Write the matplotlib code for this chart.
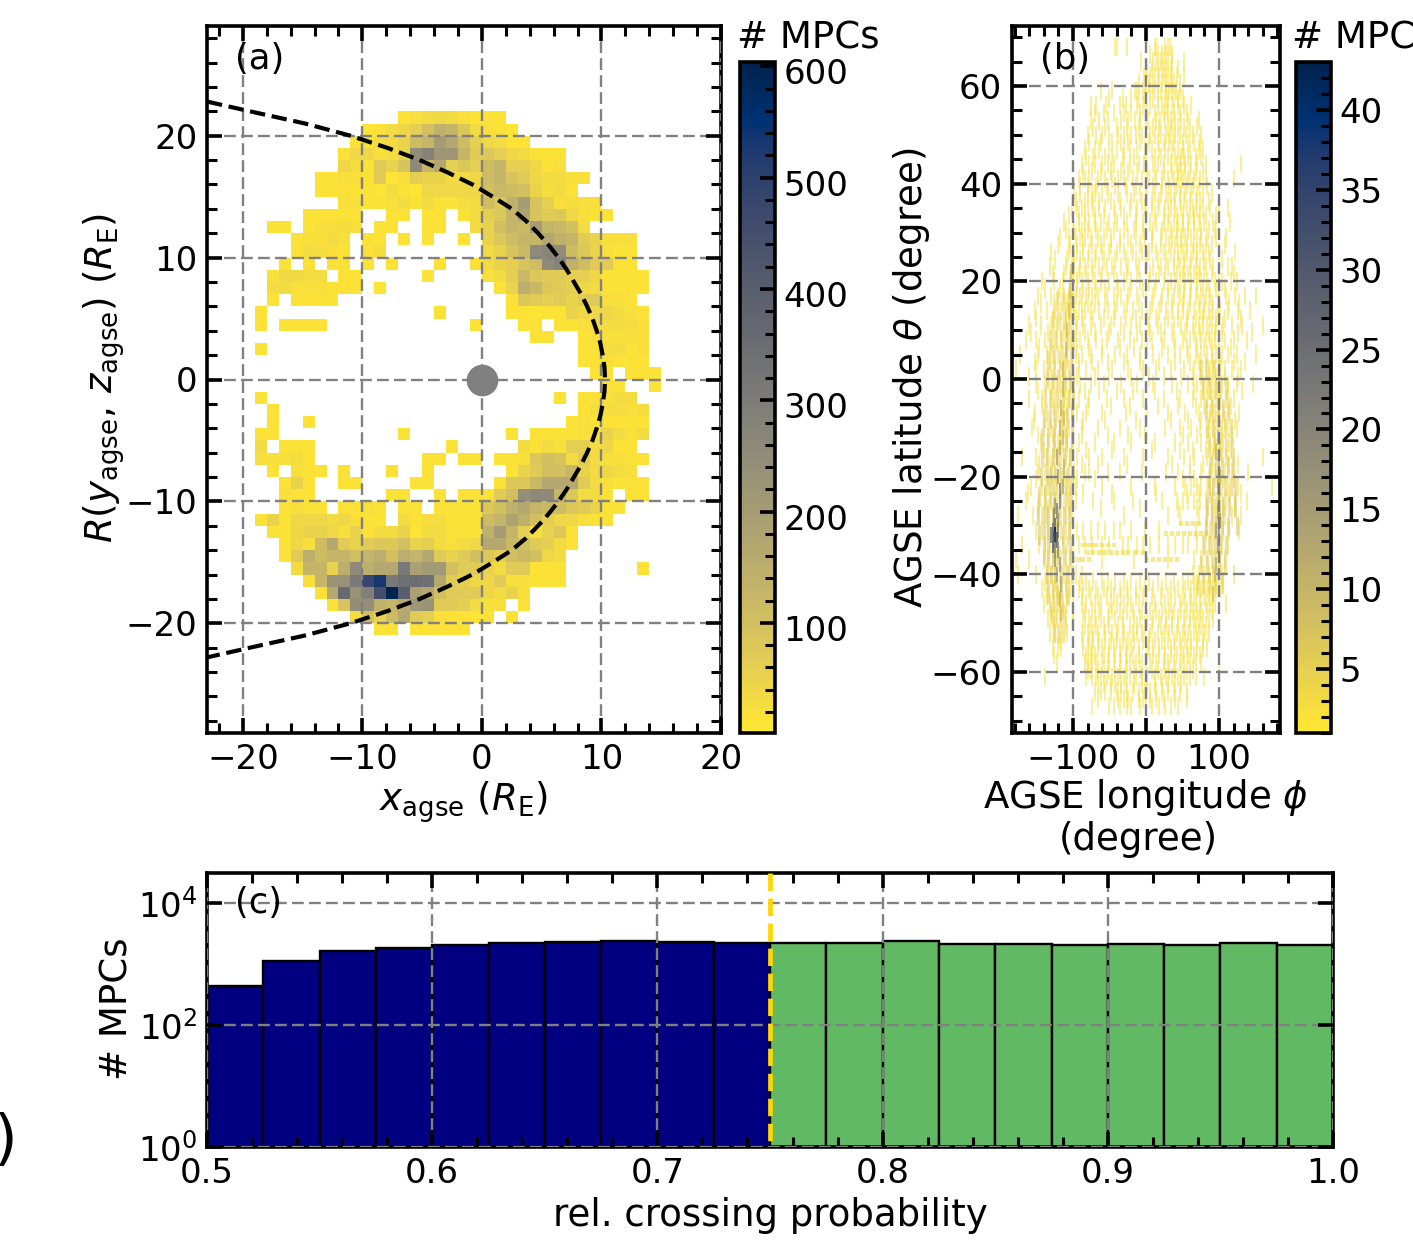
import numpy as np
import matplotlib
matplotlib.use("Agg")
import matplotlib.pyplot as plt
from matplotlib.colors import Normalize
from matplotlib.cm import ScalarMappable
from matplotlib.ticker import MultipleLocator, FixedLocator, NullFormatter
from matplotlib.transforms import ScaledTranslation

# ---------- panel (a): rows of (y bin lower edge, [(first x bin, counts), ...])
hist_rows = [
 (21, [(-7, [15,20,30,35,30,20,15,15,15])]),
 (20, [(-10, [10,15,30,40,60,100,140,130,80,30,20,15,10])]),
 (19, [(-11, [15,15,30,30,50,110,130,200,170,110,60,40,30,15,15])]),
 (18, [(-12, [15,40,40,20,30,50,250,280,220,220,130,70,80,60,40,30,15,15,15])]),
 (17, [(-12, [40,25,15,70,50,90,260,130,170,60,80,60,110,130,60,60,40,15,20])]),
 (16, [(-14, [15,15,20,20,15,70,10,20,60,50,50,30,30,40,110,130,90,70,40,30,30,20,20])]),
 (15, [(-14, [15,15,15,15,15,10,30,15,10,40,40,40,40,40,100,120,110,100,50,25,30,15])]),
 (14, [(-12, [20,20,15,15,20,30,15,30,15,15,25,30,110,80,140,200,90,60,20,25,20,20])]),
 (13, [(-15, [15,15,15,15,15]), (-8, [15,15]), (-5, [15,15]), (-2, [15,30,60,80,130,180,90,70,80,40,20,15,15])]),
 (12, [(-18, [15,15]), (-15, [15,20,20,25,20]), (-9, [15,15]), (-5, [15,15]), (-1, [30,50,100,130,120,200,130,120,100,30])]),
 (11, [(-16, [15,20,20,30,20]), (-10, [15,15]), (-7, [15]), (-5, [15]), (-2, [15]), (0, [50,80,110,130,130,170,140,130,70,50,20,20,20])]),
 (10, [(-16, [15,30,25,20,15]), (-10, [15,25]), (0, [30,50,90,120,260,270,250,110,80,50,20,15,15])]),
 (9, [(-17, [15]), (-15, [15]), (-13, [15,15]), (-10, [15]), (-8, [15]), (-4, [15]), (-1, [15,30,50,60,90,110,260,280,140,110,70,70,15]), (12, [15])]),
 (8, [(-18, [20,35,35,25,30]), (-12, [15,15]), (-5, [15]), (0, [20,30,60,120,80,70,70,60,60,40,15,15,15,15])]),
 (7, [(-18, [30,30,20,20,20,15,15,15]), (-9, [10]), (1, [15,50,150,120,80,70,60,40,30,15,15,15,15])]),
 (6, [(-18, [15]), (-16, [15,15,15,15]), (2, [15,80,70,60,70,50,70,70,20,20,15])]),
 (5, [(-19, [15]), (-4, [15]), (2, [15,15,10,15,15,50,40,40,40,30,20,15])]),
 (4, [(-19, [15]), (-17, [15,15,15,15]), (-1, [15]), (3, [15,15]), (6, [15,15,20,25,30,30,25,20])]),
 (3, [(4, [15,15]), (8, [15,20,20,20,20,20])]),
 (2, [(-19, [15]), (8, [15,15,25,30,15,20])]),
 (1, [(8, [15,15,20,15,15,15])]),
 (0, [(9, [15,15]), (12, [15,15,15])]),
 (-1, [(10, [15,15]), (14, [15])]),
 (-2, [(-19, [15]), (6, [15]), (8, [15,15,20,30,25])]),
 (-3, [(-18, [15]), (8, [15,25,25,25,20,25])]),
 (-4, [(-18, [15]), (-15, [15]), (7, [15,20,15,15,15,15,15])]),
 (-5, [(-19, [15,15]), (-7, [15]), (2, [15]), (4, [15,15,15,15,20,20,50,30,15,30])]),
 (-6, [(-19, [30]), (-17, [15,15,15]), (-3, [15]), (3, [30,15,30,20,60,60,30,40,15,15])]),
 (-7, [(-19, [20,20,20,25,15]), (-5, [15,15]), (-2, [15,15]), (1, [15,15,20,80,100,90,30,70,30,20,20,15,15])]),
 (-8, [(-18, [15]), (-16, [20,15,15]), (-12, [15]), (-8, [15]), (-5, [15]), (2, [15,50,70,100,100,130,50,30,40,30,20])]),
 (-9, [(-17, [15,50,15]), (-12, [15,15]), (-6, [15,15]), (1, [15,80,80,120,170,170,170,70,30,20,15,15,15])]),
 (-10, [(-17, [20,15,15]), (-8, [15,15]), (-4, [15]), (-2, [15,15,15,70,100,240,260,260,130,80,30,30,15]), (12, [15,15])]),
 (-11, [(-17, [15,20,15,15]), (-12, [15,15,20,15]), (-7, [15,15]), (-4, [15,15,15,15,80,100,140,170,130,120,110,80,70,50,15,15])]),
 (-12, [(-19, [15,50,15,40,40,40,30,40,20,15,15]), (-7, [30,15,25,25,15,15,15,110,130,180,140,100,60,40,40,20,15,15])]),
 (-13, [(-18, [15,15,40,50,50,40,20,50,15,30,30,50,10,30,30,15,15,15,140,200,130,60,20,50,80,15])]),
 (-14, [(-17, [15,40,20,110,170,70,50,70,80,80,100,50,60,30,20,30,40,170,170,120,100,70,60,30,15])]),
 (-15, [(-17, [15,70,150,110,130,130,100,130,150,100,150,130,170,70,50,70,100,80,60,100,120,100,40,30])]),
 (-16, [(-16, [30,130,130,50,150,260,150,170,170,310,190,210,210,100,70,70,50,30,70,70,15,15,15]), (13, [15])]),
 (-17, [(-15, [20,130,230,230,310,480,530,310,340,350,340,170,70,60,40,40,70,20,20,15,15,15])]),
 (-18, [(-14, [15,170,360,230,290,450,600,400,190,170,100,70,70,70,40,30,50,20])]),
 (-19, [(-13, [15,90,250,240,140,130,160,220,230,70,70,60,30,20,20]), (3, [15])]),
 (-20, [(-11, [25,100,50,110,170,70,60,20,15,15,10,15]), (2, [15])]),
 (-21, [(-9, [15,15]), (-6, [15,15,15,15,15])]),
]

# magnetopause boundary
curve_R = [0, 1, 2, 3, 4, 5, 6, 7, 8, 9, 10, 11, 12, 13, 14, 15, 16, 17, 18, 19, 20, 21, 22, 22.8]
curve_x = [10.3, 10.25, 10.1, 9.9, 9.6, 9.25, 8.8, 8.3, 7.7, 7.1, 6.4, 5.6, 4.7, 3.7, 2.5, 0.9, -0.8, -2.9, -5.2, -7.9, -11, -14.8, -19.4, -23]

# ---------- panel (b): short strokes per latitude row
stroke_lat = [68,65,62,59,56,53,50,47,44,41,38,35,32,29,26,23,20,17,14,11,8,5,2,-1,-4,-7,-10,-13,-16,-19,-22,-25,-28,-31,-34,-37,-40,-43,-46,-49,-52,-55,-58,-61,-64,-67]
stroke_lon = [
 [-42,-40,-26,12,14,26,30,33],
 [-7,9,14,20,25,30,36,52],
 [-3,0,6,12,18,24,30,36,42,52],
 [-62,-46,-15,-12,-4,0,5,12,21,27,32,36,41,47],
 [-75,-68,-55,-35,-28,-12,-4,6,16,22,29,36,44,52,62],
 [-76,-64,-52,-34,-24,-15,-8,3,14,19,26,34,40,48,57,72],
 [-80,-68,-60,-50,-38,-30,-20,-14,-6,6,13,20,28,33,40,47,55,64,76],
 [-84,-70,-64,-50,-40,-30,-22,-12,-2,8,18,26,36,44,50,60,72,78],
 [-88,-78,-70,-60,-52,-44,-30,-22,-10,-3,10,16,24,34,42,46,54,62,70,82,130],
 [-92,-84,-78,-66,-56,-46,-38,-30,-18,-6,4,14,22,30,38,44,50,58,66,74,82,120],
 [-98,-90,-80,-74,-70,-60,-52,-38,-26,-16,-8,2,12,20,28,34,40,46,54,62,70,78,90],
 [-102,-94,-88,-80,-72,-64,-56,-44,-34,-22,-12,-2,8,16,26,34,40,48,56,64,70,78,88,100,112],
 [-112,-100,-92,-84,-78,-70,-62,-50,-40,-26,-14,-4,6,14,24,30,38,44,50,58,66,72,80,92,115],
 [-118,-105,-96,-90,-84,-76,-66,-58,-48,-36,-24,-14,-2,8,20,28,36,42,48,54,62,70,76,84,96,110],
 [-130,-106,-100,-94,-86,-78,-68,-60,-50,-40,-30,-18,-6,4,14,24,34,44,50,56,64,70,78,86,100,122],
 [-132,-110,-102,-98,-90,-84,-74,-64,-54,-46,-34,-24,-10,0,10,20,30,38,46,52,60,68,74,82,92,112,118],
 [-142,-126,-114,-104,-100,-94,-88,-80,-70,-62,-50,-40,-30,-20,-8,4,14,24,34,40,46,54,62,70,76,84,94,104,116,124],
 [-148,-130,-120,-112,-106,-101,-96,-90,-82,-74,-66,-54,-44,-34,-24,-12,0,10,22,30,38,46,52,60,68,76,82,88,100,110,122,135,150],
 [-152,-136,-124,-116,-110,-104,-99,-92,-84,-76,-64,-52,-42,-30,-18,-6,6,18,28,36,44,50,58,66,74,80,86,92,102,112,126,142],
 [-160,-144,-130,-122,-116,-110,-105,-100,-94,-86,-76,-62,-48,-34,-20,-8,4,16,26,38,48,56,64,72,78,84,90,96,106,118,132,160],
 [-165,-150,-138,-128,-122,-116,-110,-104,-98,-90,-80,-68,-54,-38,-22,-6,8,24,38,50,60,68,76,82,88,94,100,108,120,138],
 [-172,-148,-136,-128,-120,-114,-108,-102,-96,-88,-76,-60,-42,-26,-8,10,30,46,58,68,76,84,90,96,104,112,125,150],
 [-178,-150,-140,-130,-124,-118,-112,-106,-100,-92,-82,-66,-46,-24,-4,14,34,52,66,74,82,88,94,100,108,118,130],
 [-150,-138,-128,-122,-116,-110,-104,-98,-90,-76,-58,-34,-12,10,36,58,70,78,84,90,96,104,112,124,146],
 [-160,-142,-132,-124,-118,-112,-106,-100,-92,-78,-54,-30,-4,24,46,64,76,84,90,96,102,110,120],
 [-152,-136,-126,-120,-114,-108,-102,-94,-82,-60,-28,2,30,54,72,82,88,94,100,106,114,128],
 [-156,-140,-130,-124,-118,-112,-106,-100,-88,-66,-36,-8,26,46,62,74,86,92,98,104,112,124],
 [-144,-134,-126,-120,-114,-108,-102,-92,-70,-44,-20,12,40,58,76,88,94,100,106,114],
 [-170,-150,-136,-128,-122,-116,-110,-104,-94,-78,-60,-30,-4,30,52,66,84,92,98,104,110,120,160],
 [-148,-138,-130,-124,-118,-112,-106,-98,-84,-78,-52,-36,-6,28,44,60,76,88,94,100,108,118,140],
 [-158,-142,-134,-128,-122,-116,-110,-104,-96,-60,-20,12,40,54,62,70,76,84,92,98,104,112,126,172],
 [-165,-146,-138,-130,-124,-118,-112,-106,-96,-72,-44,-18,22,42,50,58,66,74,82,90,96,102,110,122,138],
 [-175,-155,-142,-136,-128,-122,-116,-110,-102,-30,30,46,72,84,90,96,102,108,118,130],
 [-150,-142,-134,-128,-122,-116,-110,-104,-94,-86,-76,-66,-56,-44,-36,-20,-2,18,68,82,88,94,100,106,114,128],
 [-170,-146,-138,-132,-126,-120,-114,-108,-102,-92,-84,-74,-60,-50,-32,-24,-12,-4,6,18,30,40,50,58,70,78,86,92,98,104,112],
 [-178,-160,-140,-134,-128,-122,-116,-110,-104,-60,-16,30,66,76,84,90,96,102,108],
 [-175,-150,-136,-130,-124,-118,-112,-106,-96,-88,64,72,80,86,92,98,104,120],
 [-142,-134,-128,-122,-116,-110,-104,-92,-86,-78,-68,-58,-48,-36,-26,-14,-2,10,22,34,44,54,62,70,76,84,90,96,102],
 [-140,-132,-126,-120,-114,-108,-100,-88,-82,-70,-62,-48,-40,-30,-20,-10,0,12,26,34,46,54,62,68,74,82,88,94,110],
 [-134,-128,-122,-116,-110,-100,-86,-78,-70,-62,-52,-42,-32,-16,-8,2,10,18,28,36,44,52,60,66,72,78,86,92],
 [-132,-124,-116,-108,-88,-80,-72,-66,-56,-46,-40,-30,-18,-6,-12,6,16,24,32,42,50,58,66,72,80,86],
 [-128,-120,-116,-86,-80,-74,-66,-60,-50,-44,-36,-28,-20,-10,4,10,18,26,34,40,48,56,62,70,78,84],
 [-122,-84,-80,-74,-68,-60,-52,-44,-36,-28,-22,-14,-6,6,14,24,30,38,46,52,60,68,76,100],
 [-138,-82,-74,-68,-62,-54,-46,-38,-30,-22,-14,-6,2,12,20,28,36,44,52,60,68,80],
 [-70,-62,-56,-48,-40,-34,-26,-18,-10,-2,6,14,22,30,38,46,56],
 [-74,-50,-44,-36,-26,-20,-8,0,8,18,26,34,44],
]

stroke_lat2 = [66.5,63.5,60.5,57.5,54.5,51.5,48.5,45.5,42.5,39.5,36.5,33.5,30.5,27.5,24.5,21.5,18.5,15.5,12.5,9.5,6.5,3.5,0.5,-2.5,-5.5,-8.5,-11.5,-14.5,-17.5,-20.5,-23.5,-26.5,-41.5,-44.5,-47.5,-50.5,-53.5,-56.5,-59.5,-62.5,-65.5]
stroke_lon2 = [
 [5,16,22,28,35],
 [2,8,16,22,28,34,44],
 [-10,-2,4,10,16,22,28,34,38,46],
 [-50,-32,-20,-10,-2,10,16,26,30,38,44,50],
 [-70,-58,-44,-30,-20,-8,2,12,24,30,38,46,56],
 [-72,-56,-40,-26,-10,0,10,18,30,36,44,52,60,70],
 [-78,-62,-46,-34,-24,-8,4,16,24,32,38,50,58,66,74],
 [-82,-72,-56,-46,-32,-16,0,12,20,30,40,48,52,58,68,76],
 [-86,-74,-62,-48,-34,-24,-12,2,12,24,36,44,48,54,60,68,78],
 [-90,-80,-68,-54,-42,-28,-14,0,10,22,32,42,48,56,64,72,84],
 [-96,-84,-74,-64,-48,-36,-20,-6,8,18,30,38,46,52,60,68,74,86],
 [-106,-92,-84,-70,-58,-42,-30,-14,0,12,24,32,42,50,60,66,74,82,96],
 [-110,-98,-88,-80,-68,-54,-44,-30,-16,-4,10,22,34,42,50,58,66,76,86,94],
 [-120,-104,-94,-86,-74,-62,-48,-36,-20,-8,8,20,32,40,48,56,66,74,82,90,108],
 [-124,-108,-98,-90,-80,-70,-58,-42,-28,-14,2,16,28,38,44,54,62,70,80,88,104],
 [-128,-112,-100,-92,-82,-72,-60,-44,-26,-12,6,18,26,42,50,58,66,72,80,90,100,120],
 [-138,-118,-102,-94,-86,-78,-68,-56,-38,-22,-4,12,30,44,52,62,70,78,86,96,108],
 [-144,-126,-108,-98,-88,-80,-70,-56,-40,-26,-10,8,20,36,50,60,72,80,90,98,114,128],
 [-150,-128,-110,-96,-88,-72,-58,-44,-28,-14,2,14,30,44,56,68,78,88,96,108,130],
 [-158,-134,-112,-96,-84,-70,-50,-30,-12,6,20,36,54,66,74,86,94,104,126,145],
 [-146,-130,-108,-94,-78,-60,-36,-16,2,22,40,56,70,80,90,100,116],
 [-152,-132,-112,-92,-74,-52,-30,-8,18,40,60,72,82,92,102,120,135],
 [-160,-134,-114,-94,-70,-50,-20,4,24,48,64,76,86,96,108,126],
 [-148,-130,-110,-84,-64,-40,-18,12,42,66,78,88,98,112,132],
 [-142,-126,-108,-80,-48,-22,16,44,68,80,90,100,116],
 [-154,-134,-114,-86,-56,-14,34,58,76,88,96,108,122],
 [-148,-128,-110,-88,-52,-24,-2,50,70,84,94,104,118],
 [-140,-124,-108,-82,-46,8,46,64,82,92,102,116],
 [-146,-130,-112,-88,-66,-26,36,60,78,90,100,112,126],
 [-150,-132,-112,-94,-70,50,66,86,96,106,120],
 [-162,-138,-122,-106,-86,-46,14,56,72,88,98,114,130],
 [-148,-134,-118,-104,-62,-8,44,70,84,94,106,122],
 [-138,-124,-110,-90,-82,-72,-60,-52,-42,-30,-20,-8,4,16,28,38,50,58,66,72,80,88,94,106],
 [-136,-120,-106,-88,-76,-66,-54,-44,-34,-24,-14,-4,8,20,30,40,50,60,66,74,80,86,92],
 [-130,-114,-100,-84,-74,-64,-50,-46,-36,-26,-18,-6,6,14,22,32,38,48,56,64,70,76,84,90],
 [-126,-110,-84,-76,-68,-58,-50,-38,-32,-22,-12,-2,8,20,28,36,44,54,60,68,76,82],
 [-118,-86,-78,-72,-64,-56,-48,-40,-32,-24,-16,-4,4,12,22,30,38,46,54,62,70,78],
 [-126,-82,-76,-70,-58,-50,-42,-34,-26,-18,-10,2,10,18,26,34,42,50,58,66,74],
 [-80,-76,-66,-58,-50,-42,-36,-26,-16,-8,0,8,16,24,32,40,48,56,64],
 [-66,-58,-48,-42,-34,-28,-16,-6,2,12,22,30,40,48],
 [-66,-38,-30,-24,-10,-4,6,14,24,40,56],
]

# horizontal streaks in the sparse part of panel (b)
streak_lat = [-34,-34,-34,-34,-34,-34,-34,-35.6,-35.6,-35.6,-35.6,-35.6,-35.6,-35.6,-35.6,-35.6,-35.6,-37,-37,-37,-37,-37,-37,-37,-37,-37,-37,-31.6,-31.6,-31.6,-31.6,-31.6,-31.6,-31.6,-31.6,-29.6,-29.6,-29.6,-29.6]
streak_lon = [-86,-80,-74,-68,-60,-52,-44,-80,-72,-64,-56,-48,-40,-32,-24,-14,-4,-98,-92,-86,-78,2,10,18,26,34,42,28,36,44,52,60,68,76,82,48,56,64,72]

# darker strokes of the two dense bands of panel (b)
band_lat = [22,18,14,10,6,2,-2,-6,-8,-10,-12,-14,-16,-18,-20,-22,-23,-25,-26,-27,-28,-29,-30,-31,-31,-32,-32,-33,-33,-34,-35,-35,-37,-38,-40,-42,-45,-48,
            -8,-12,-15,-18,-20,-22,-25,-27,-29,-31,-32,-34,-36,-38,-40,-44]
band_lon = [-103,-104,-106,-108,-110,-113,-114,-116,-112,-118,-113,-118,-122,-112,-120,-114,-118,-118,-124,-122,-126,-120,-124,-128,-120,-125,-130,-122,-126,-128,-124,-120,-124,-118,-122,-116,-118,-116,
            100,98,96,100,102,98,100,98,102,96,100,98,100,96,94,92]
band_val = [6,6,7,7,8,8,9,9,8,9,8,10,12,9,14,12,18,18,14,20,18,16,26,24,20,43,22,30,34,26,20,18,16,14,12,12,9,7,
            6,8,9,9,10,11,12,14,16,14,18,14,12,10,8,6]

# paler fill of the bands
fill_lat = [16,12,8,4,0,-4,-8,-12,-16,-20,-24,-28,-32,-36,-40,-44,-48,-52, 2,-2,-6,-10,-14,-18,-22,-26,-30,-34,-38,-42]
fill_lon = [
 [-122,-114,-106,-101],
 [-128,-120,-112,-104],
 [-132,-124,-116,-108,-102],
 [-134,-126,-118,-110,-103],
 [-136,-128,-120,-112,-104],
 [-138,-130,-122,-114,-106,-100],
 [-140,-132,-124,-116,-108,-101],
 [-142,-134,-126,-118,-110,-102],
 [-142,-135,-128,-120,-112,-104],
 [-144,-136,-130,-124,-116,-108,-101],
 [-146,-138,-132,-126,-118,-110,-103],
 [-148,-140,-134,-128,-120,-112,-105],
 [-146,-140,-134,-128,-122,-114,-106],
 [-140,-134,-128,-120,-112,-104],
 [-136,-130,-124,-116,-108,-101],
 [-134,-128,-122,-116,-108],
 [-130,-124,-118,-112],
 [-126,-120,-114],
 [76,84,92,100],
 [78,86,94,102,110],
 [82,90,98,106,112],
 [84,92,100,108,116],
 [86,94,102,110,118],
 [88,96,104,112,119],
 [86,92,100,108,116,122],
 [84,90,98,106,114,122],
 [82,90,96,104,112,124],
 [80,88,94,102,110],
 [76,84,92,100,108],
 [70,78,86,94,104],
]
fill_val = [5,5,5,6,6,6,7,7,7,7,7,8,8,7,7,6,5,5, 5,5,6,6,6,7,7,8,8,7,6,5]

# ---------- panel (c)
prob_edges = [0.5,0.525,0.55,0.575,0.6,0.625,0.65,0.675,0.7,0.725,0.75,0.775,0.8,0.825,0.85,0.875,0.9,0.925,0.95,0.975,1.0]
prob_counts = [436,1115,1630,1830,2050,2200,2290,2390,2290,2200,2200,2200,2390,2130,2130,2050,2130,2050,2200,2050]

CMAP = "cividis_r"
FS = 24.5
LFS = 26.7
plt.rcParams.update({
    "font.family": "DejaVu Sans", "font.size": FS, "mathtext.default": "it",
    "axes.linewidth": 2.6, "xtick.labelsize": FS, "ytick.labelsize": FS,
})

fig = plt.figure(figsize=(14.13, 12.49), dpi=100)
W, H = 1413.0, 1249.0
def axpx(l, t, r, b):
    return fig.add_axes([l / W, 1 - b / H, (r - l) / W, (b - t) / H])

ax_a = axpx(207, 26, 721, 733)
cax_a = axpx(740, 62, 775, 733)
ax_b = axpx(1012, 26, 1280, 733)
cax_b = axpx(1296, 62, 1331, 733)
ax_c = axpx(207, 873, 1333, 1147)

def style(ax, xmaj, xmin, ymaj=None, ymin=None):
    ax.xaxis.set_major_locator(MultipleLocator(xmaj))
    ax.xaxis.set_minor_locator(MultipleLocator(xmin))
    if ymaj:
        ax.yaxis.set_major_locator(MultipleLocator(ymaj))
        ax.yaxis.set_minor_locator(MultipleLocator(ymin))
    ax.tick_params(which="major", direction="in", length=11, width=2.6, top=True, right=True, pad=7)
    ax.tick_params(which="minor", direction="in", length=7, width=2.2, top=True, right=True)
    ax.set_axisbelow(False)
    ax.grid(True, which="major", color="gray", ls=(0, (5, 2.2)), lw=1.7)

def pxlabel(txt, x, y, **kw):
    fig.text(x / W, 1 - y / H, txt, **kw)

# (a)
xe = np.arange(-23, 21)
ye = np.arange(-29, 30)
Z = np.full((len(ye) - 1, len(xe) - 1), np.nan)
for yb, parts in hist_rows:
    for x0, vals in parts:
        for i, v in enumerate(vals):
            Z[yb + 29, x0 + i + 23] = v
norm_a = Normalize(1, 604)
ax_a.pcolormesh(xe, ye, Z, cmap=CMAP, norm=norm_a, linewidth=0)
R = np.array(curve_R)
X = np.array(curve_x)
ax_a.plot(np.r_[X[::-1], X[1:]], np.r_[R[::-1], -R[1:]], color="k", ls="--", lw=3.0, zorder=4)
ax_a.scatter([0], [0], s=520, color="gray", zorder=5, linewidths=0)
ax_a.set_xlim(-23, 20)
ax_a.set_ylim(-29, 29)
style(ax_a, 10, 2, 10, 2)
pxlabel(r"$x_{\mathrm{agse}}$ ($R_{\mathrm{E}}$)", 463, 802, fontsize=LFS, ha="center", va="center")
pxlabel(r"$R(y_{\mathrm{agse}},\, z_{\mathrm{agse}})$ ($R_{\mathrm{E}}$)", 104, 378, fontsize=LFS, ha="center", va="center", rotation=90)
pxlabel("(a)", 235, 59, fontsize=25.5, va="center")

# (b)
norm_b = Normalize(1, 43)
cm = plt.get_cmap(CMAP)
for lat, lons in list(zip(stroke_lat, stroke_lon)) + list(zip(stroke_lat2, stroke_lon2)):
    ax_b.vlines(lons, lat - 1.9, lat + 1.9, colors=[cm(norm_b(2))], lw=1.2, alpha=0.6)
ax_b.vlines(streak_lon, np.array(streak_lat) - 0.5, np.array(streak_lat) + 0.5, colors=[cm(norm_b(3))], lw=3.2, alpha=0.6)
for lat, lons, v in zip(fill_lat, fill_lon, fill_val):
    ax_b.vlines(lons, lat - 2.0, lat + 2.0, colors=[cm(norm_b(v))], lw=2.4, alpha=0.5)
for la, lo, v in zip(band_lat, band_lon, band_val):
    ax_b.vlines(lo, la - 1.6, la + 1.6, colors=[cm(norm_b(v))], lw=1.5, alpha=0.85)
ax_b.set_xlim(-183.5, 183.5)
ax_b.set_ylim(-72.5, 72.3)
style(ax_b, 100, 20, 20, 5)
pxlabel("AGSE longitude $\\phi$", 1146, 798, fontsize=LFS, ha="center", va="center")
pxlabel("(degree)", 1138, 840, fontsize=LFS, ha="center", va="center")
pxlabel(r"AGSE latitude $\theta$ (degree)", 912, 378, fontsize=LFS, ha="center", va="center", rotation=90)
pxlabel("(b)", 1040, 59, fontsize=25.5, va="center")

# colourbars
for cax, nrm, maj, mnr, xt in [(cax_a, norm_a, 100, 20, 737), (cax_b, norm_b, 5, 1, 1292)]:
    cb = fig.colorbar(ScalarMappable(norm=nrm, cmap=CMAP), cax=cax)
    cb.ax.yaxis.set_major_locator(MultipleLocator(maj))
    cb.ax.yaxis.set_minor_locator(MultipleLocator(mnr))
    cb.ax.tick_params(which="major", direction="in", length=11, width=2.6, right=True, left=False, pad=6)
    cb.ax.tick_params(which="minor", direction="in", length=7, width=2.2, right=True, left=False)
    cb.outline.set_linewidth(2.6)
    pxlabel("# MPCs", xt, 38, fontsize=LFS, va="center", ha="left")
shift = ScaledTranslation(0, -5 / 100, fig.dpi_scale_trans)
for lab in cax_a.yaxis.get_majorticklabels():
    lab.set_transform(lab.get_transform() + shift)

# (c)
widths = np.diff(prob_edges)
cols = ["navy" if e < 0.75 else "#62b963" for e in prob_edges[:-1]]
ax_c.bar(prob_edges[:-1], prob_counts, width=widths, align="edge", color=cols, edgecolor="k", lw=1.7)
ax_c.set_yscale("log")
ax_c.set_xlim(0.5, 1.0)
ax_c.set_ylim(1, 10 ** 4.49)
style(ax_c, 0.1, 0.02)
ax_c.yaxis.set_major_locator(FixedLocator([1, 100, 10000]))
ax_c.yaxis.set_minor_locator(FixedLocator([]))
ax_c.yaxis.set_minor_formatter(NullFormatter())
ax_c.plot([0.75, 0.75], [10 ** 4.49, 1], color="gold", ls="--", lw=3.4, zorder=6)
pxlabel("rel. crossing probability", 770, 1215, fontsize=LFS, ha="center", va="center")
pxlabel("# MPCs", 117, 1009, fontsize=LFS, ha="center", va="center", rotation=90)
pxlabel("(c)", 235, 903, fontsize=25.5, va="center")
pxlabel(")", -7, 1142, fontsize=44, va="center")

fig.savefig("out.png", dpi=100)
